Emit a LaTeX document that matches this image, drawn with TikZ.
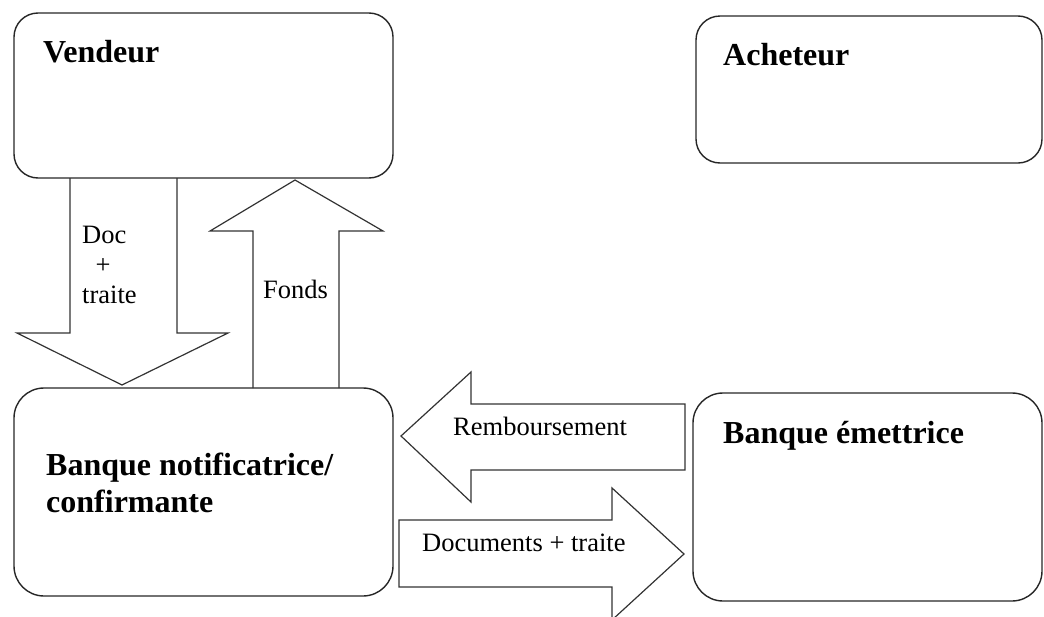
\documentclass[tikz,border=0pt]{standalone}
\usepackage{fontspec}
\setmainfont{Liberation Serif}
\begin{document}
\begin{tikzpicture}[x=1pt,y=-1pt,
  party/.style={draw=black!85, line width=1.4pt, rounded corners=24pt},
  flow/.style={draw=black!80, line width=1.2pt, line join=miter},
  title/.style={anchor=base west, inner sep=0pt, font=\fontsize{32}{37}\selectfont\bfseries},
  lbl/.style={anchor=base west, inner sep=0pt, font=\fontsize{26.5}{30}\selectfont}]
\useasboundingbox (0,0) rectangle (1044,616);
\clip (0,0) rectangle (1044,616);

% parties and banks
\draw[party] (14,13) rectangle (393,178);
\draw[party] (696,16) rectangle (1042,163);
\draw[party, rounded corners=30pt] (14,388) rectangle (393,596);
\draw[party, rounded corners=30pt] (693,393) rectangle (1042,601);

\node[title] (vendeur) at (43,62) {Vendeur};
\node[title] (acheteur) at (723,65) {Acheteur};
\node[title] (emettrice) at (723,443) {Banque émettrice};
\node[title, align=left, anchor=base west] (notif1) at (46,475) {Banque notificatrice/};
\node[title] (notif2) at (46,512) {confirmante};

% block arrows
\draw[flow] (70,178) -- (70,333) -- (17,333) -- (122,385) -- (228,333) -- (177,333) -- (177,178);
\draw[flow] (253,388) -- (253,231) -- (210,231) -- (295,180) -- (383,231) -- (339,231) -- (339,388);
\draw[flow] (685,404) -- (471,404) -- (471,372) -- (401,436) -- (471,502) -- (471,470) -- (685,470) -- cycle;
\draw[flow] (399,520) -- (612,520) -- (612,488) -- (684,554) -- (612,620) -- (612,587) -- (399,587) -- cycle;

% arrow labels
\node[lbl] (doc) at (82,243) {Doc};
\node[lbl, anchor=base] (plus) at (103,273) {+};
\node[lbl] (traite) at (82,303) {traite};
\node[lbl] (fonds) at (263,298) {Fonds};
\node[lbl] (remb) at (453,435) {Remboursement};
\node[lbl] (docs) at (422,551) {Documents + traite};
\end{tikzpicture}
\end{document}
